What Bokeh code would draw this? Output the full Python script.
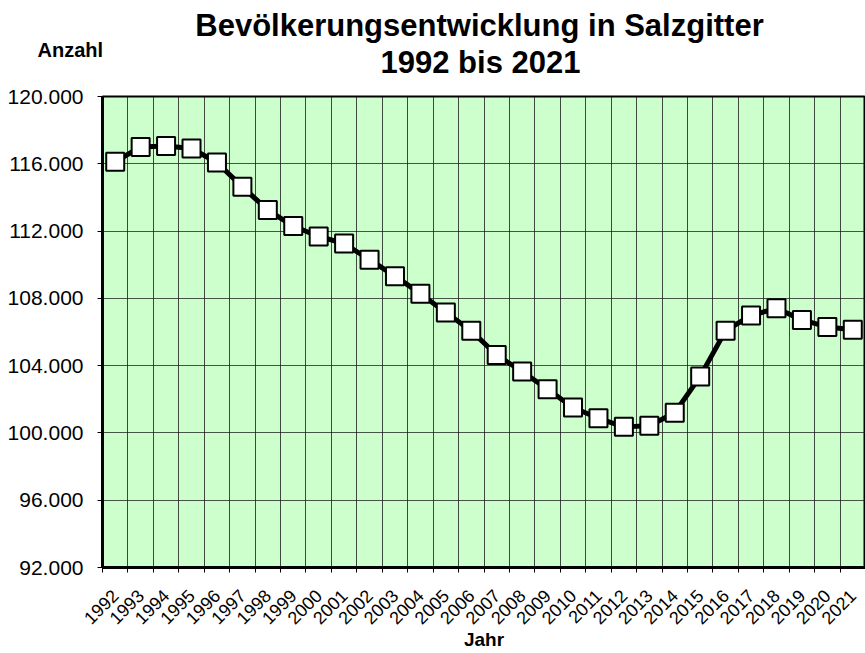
import math
from bokeh.plotting import figure
from bokeh.models import FixedTicker, ColumnDataSource, Range1d
from bokeh.layouts import column
from bokeh.core.properties import value
from bokeh.embed import file_html
from bokeh.resources import INLINE

# ---- data ----
years = [1992, 1993, 1994, 1995, 1996, 1997, 1998, 1999, 2000, 2001,
         2002, 2003, 2004, 2005, 2006, 2007, 2008, 2009, 2010, 2011,
         2012, 2013, 2014, 2015, 2016, 2017, 2018, 2019, 2020, 2021]
population = [116120, 117000, 117060, 116910, 116080, 114630, 113250, 112300, 111680, 111260,
              110300, 109320, 108280, 107160, 106070, 104630, 103650, 102600, 101510, 100870,
              100360, 100430, 101200, 103360, 106080, 106980, 107410, 106720, 106300, 106140]
year_labels = [str(y) for y in years]
y_ticks = [92000, 96000, 100000, 104000, 108000, 112000, 116000, 120000]
y_tick_labels = ["92.000", "96.000", "100.000", "104.000", "108.000", "112.000", "116.000", "120.000"]
title_line1 = "Bevölkerungsentwicklung in Salzgitter"
title_line2 = "1992 bis 2021"
y_title = "Anzahl"
x_title = "Jahr"

FONT = "Liberation Sans"
W = 865
HEAD_H = 80
MAIN_H = 653 - HEAD_H
TITLE_PX = 31
CAPTION_PX = 20
BASE_SHIFT = 0.38  # rendered text sits this many em below its anchor

x_start = years[0] - 0.5
x_end = years[-1] + 0.5
boundaries = [y - 0.5 for y in years] + [years[-1] + 0.5]


def no_frame_align(fig):
    if "frame_align" in fig.properties():
        fig.frame_align = False


def head_y(baseline_px, size_px):
    # convert a wanted baseline (px from top of page) into header data y
    return HEAD_H - (baseline_px - BASE_SHIFT * size_px)


# ---- header (title + y-axis caption) ----
head = figure(width=W, height=HEAD_H, output_backend="svg", toolbar_location=None,
              title=None, x_range=Range1d(0, W), y_range=Range1d(0, HEAD_H),
              x_axis_type=None, y_axis_type=None,
              min_border_left=0, min_border_right=0, min_border_top=0, min_border_bottom=0)
head.outline_line_color = None
head.background_fill_color = "white"
head.border_fill_color = "white"
no_frame_align(head)
head.text(x=[479, 480], y=[head_y(36.7, TITLE_PX), head_y(74, TITLE_PX)],
          text=[title_line1, title_line2],
          text_font=value(FONT), text_font_size=value(f"{TITLE_PX}px"), text_font_style="bold",
          text_align="center", text_baseline="alphabetic", text_color="black")
head.text(x=[37], y=[head_y(57, CAPTION_PX)], text=[y_title],
          text_font=value(FONT), text_font_size=value(f"{CAPTION_PX}px"), text_font_style="bold",
          text_align="left", text_baseline="alphabetic", text_color="black")

# ---- main chart ----
p = figure(width=W, height=MAIN_H, output_backend="svg", toolbar_location=None,
           x_range=(x_start, x_end), y_range=(y_ticks[0], y_ticks[-1]),
           min_border_left=102, min_border_top=96 - HEAD_H,
           min_border_bottom=MAIN_H - (569 - HEAD_H), min_border_right=0, title=None)
no_frame_align(p)

p.border_fill_color = "white"
p.background_fill_color = "#ccffcc"
p.outline_line_color = "black"
p.outline_line_width = 2

# grids
p.xgrid.ticker = FixedTicker(ticks=boundaries)
p.xgrid.grid_line_color = "#1a1a1a"
p.xgrid.grid_line_alpha = 0.8
p.xgrid.grid_line_width = 1
p.ygrid.ticker = FixedTicker(ticks=y_ticks)
p.ygrid.grid_line_color = "#1a1a1a"
p.ygrid.grid_line_alpha = 0.75
p.ygrid.grid_line_width = 1

# x axis
xa = p.xaxis[0]
xa.ticker = FixedTicker(ticks=years, minor_ticks=boundaries)
xa.major_label_overrides = {y: lab for y, lab in zip(years, year_labels)}
xa.major_tick_line_color = None
xa.major_tick_out = 5
xa.major_tick_in = 0
xa.minor_tick_line_color = "black"
xa.minor_tick_out = 5
xa.minor_tick_in = 0
xa.axis_line_color = "black"
xa.axis_line_width = 3
xa.major_label_orientation = math.pi / 4
xa.major_label_text_font = FONT
xa.major_label_text_font_size = "18px"
xa.major_label_text_color = "black"
xa.major_label_standoff = 20
xa.axis_label = x_title
xa.axis_label_text_font = FONT
xa.axis_label_text_font_size = "19px"
xa.axis_label_text_font_style = "bold"
xa.axis_label_text_color = "black"
xa.axis_label_standoff = -4

# y axis
ya = p.yaxis[0]
ya.ticker = FixedTicker(ticks=y_ticks)
ya.major_label_overrides = {t: lab for t, lab in zip(y_ticks, y_tick_labels)}
ya.major_tick_out = 5
ya.major_tick_in = 0
ya.major_tick_line_color = "black"
ya.minor_tick_line_color = None
ya.axis_line_color = "black"
ya.axis_line_width = 3
ya.major_label_text_font = FONT
ya.major_label_text_font_size = "21px"
ya.major_label_text_color = "black"
ya.major_label_standoff = 14

# series
src = ColumnDataSource(dict(x=years, y=population))
p.line("x", "y", source=src, line_color="black", line_width=5)
p.scatter("x", "y", source=src, marker="square", size=18,
          fill_color="white", line_color="black", line_width=2)

layout = column(head, p, spacing=0)
open("out.html", "w").write(file_html(layout, INLINE))
